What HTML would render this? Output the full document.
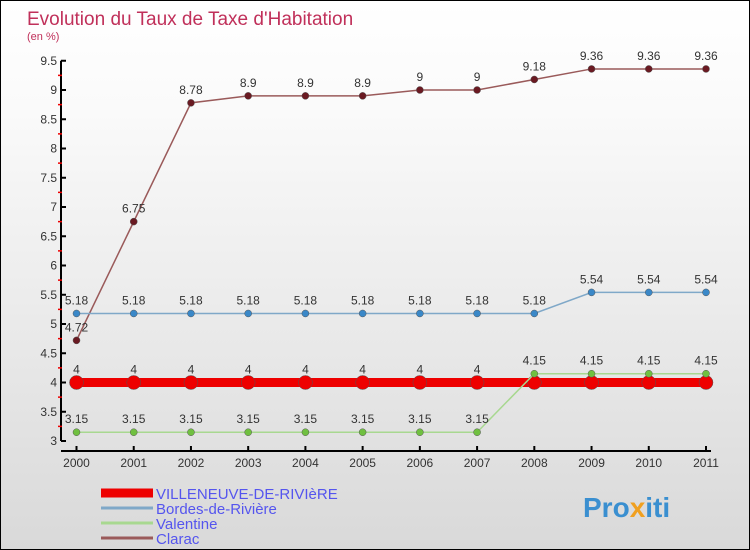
<!DOCTYPE html>
<html><head><meta charset="utf-8"><style>
body{margin:0}
#c{width:750px;height:550px;position:relative;border:1px solid #000;box-sizing:border-box;background:linear-gradient(#fff,#fafafa 20%,#d9d9d9);font-family:"Liberation Sans",sans-serif;overflow:hidden}
</style></head><body>
<div id="c">
<svg id="s" width="750" height="550" style="position:absolute;left:0;top:0">
<text x="26" y="24" font-size="19" fill="#c0305a">Evolution du Taux de Taxe d'Habitation</text>
<text x="26" y="39" font-size="11" fill="#c0305a">(en %)</text>
<g id="g"></g>
<text x="582" y="516" font-size="28" font-weight="bold" fill="#3a8fd0">Pro<tspan fill="#f0a020">x</tspan>iti</text>
</svg>
</div>
<script>
const years=["2000","2001","2002","2003","2004","2005","2006","2007","2008","2009","2010","2011"];
const yTicks=[3,3.5,4,4.5,5,5.5,6,6.5,7,7.5,8,8.5,9,9.5];
const villeneuve=[4,4,4,4,4,4,4,4,4,4,4,4];
const bordes=[5.18,5.18,5.18,5.18,5.18,5.18,5.18,5.18,5.18,5.54,5.54,5.54];
const valentine=[3.15,3.15,3.15,3.15,3.15,3.15,3.15,3.15,4.15,4.15,4.15,4.15];
const clarac=[4.72,6.75,8.78,8.9,8.9,8.9,9,9,9.18,9.36,9.36,9.36];
const seriesNames=["VILLENEUVE-DE-RIVIèRE","Bordes-de-Rivière","Valentine","Clarac"];
const NS="http://www.w3.org/2000/svg",g=document.getElementById('g');
const X=i=>75.5+i*(629.5/11), Y=v=>440-(v-3)*58.5;
function el(t,a,p){const e=document.createElementNS(NS,t);for(const k in a)e.setAttribute(k,a[k]);(p||g).appendChild(e);return e;}
let e=el('line',{x1:60,y1:Y(9.5),x2:60,y2:Y(3),stroke:'#000','stroke-width':2});

e=el('line',{x1:60,y1:450,x2:710,y2:450,stroke:'#000','stroke-width':2});

yTicks.forEach((v,k)=>{el('line',{x1:60,y1:Y(v),x2:65,y2:Y(v),stroke:'#000','stroke-width':2});
if(k<yTicks.length-1)el('line',{x1:57,y1:Y(v+0.25),x2:61,y2:Y(v+0.25),stroke:'#e00','stroke-width':1.5});
const t=el('text',{x:56,y:Y(v)+4,'font-size':12,fill:'#333','text-anchor':'end'});t.textContent=v;
});
years.forEach((y,i)=>{el('line',{x1:X(i),y1:445,x2:X(i),y2:450,stroke:'#000','stroke-width':2});
const t=el('text',{x:X(i),y:466,'font-size':12,fill:'#333','text-anchor':'middle'});t.textContent=y;
});
function series(d,col,w,r,name,fill,skip){
 const p=el('polyline',{points:d.map((v,i)=>X(i)+','+Y(v)).join(' '),fill:'none',stroke:col,'stroke-width':w});
 
 d.forEach((v,i)=>{const c=el('circle',{cx:X(i),cy:Y(v),r:r,fill:fill,stroke:'#555','stroke-width':0.5});
 
 if(skip&&skip(i))return;
 const t=el('text',{x:X(i),y:Y(v)-9,'font-size':12,fill:'#333','text-anchor':'middle'});t.textContent=v;
 });
}
series(clarac,'#9a5a5a',1.5,3.5,'clarac','#6a1a22');
series(bordes,'#7fa8c8',1.5,3.5,'bordes','#3a88c8');
series(villeneuve,'#e00',9,7,'villeneuve','#e00',i=>Math.abs(valentine[i]-villeneuve[i])<0.3);
series(valentine,'#a8d890',1.5,3.5,'valentine','#70c040');
const lc=['#e00','#7fa8c8','#a8d890','#9a5a5a'],lw=[9,3,3,3];
seriesNames.forEach((n,i)=>{const y=492+i*15;
 let l=el('line',{x1:100,y1:y,x2:152,y2:y,stroke:lc[i],'stroke-width':lw[i]});
 
 const t=el('text',{x:155,y:y+6,'font-size':15,fill:'#5555ee'});t.textContent=n;
 });
</script>
</body></html>
